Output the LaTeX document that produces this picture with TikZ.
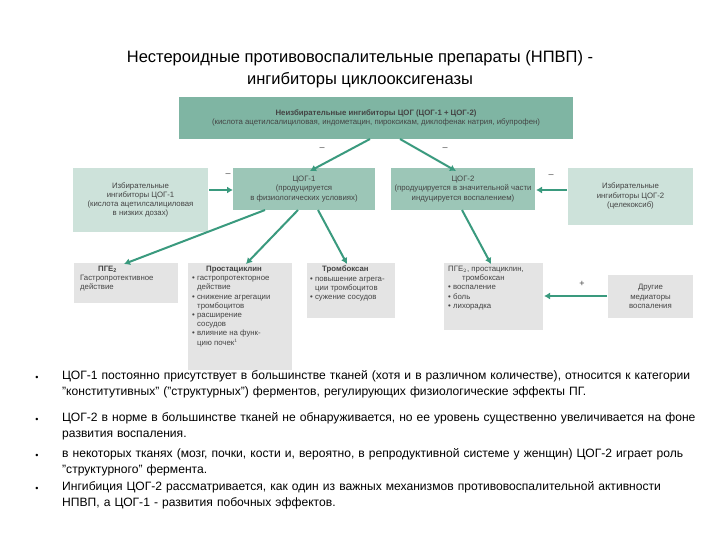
\documentclass[tikz,border=0pt]{standalone}
\usepackage{fontspec}
\setmainfont{Liberation Sans}
\usetikzlibrary{arrows.meta}
\definecolor{tealD}{HTML}{7FB5A3}
\definecolor{tealM}{HTML}{9CC6B7}
\definecolor{tealL}{HTML}{CDE2DA}
\definecolor{grayB}{HTML}{E4E4E4}
\definecolor{arr}{HTML}{3A9A7E}
\definecolor{txt}{HTML}{444444}
\tikzset{
 boxx/.style={inner sep=2pt,align=center,font=\fontsize{7.8}{9.2}\selectfont,text=txt},
 conn/.style={arr,line width=2pt,-{Latex[length=6pt,width=7pt]}},
 sign/.style={font=\fontsize{9}{10}\selectfont,text=txt},
 bul/.style={anchor=north west,text width=640pt,font=\fontsize{12.1}{16}\selectfont,align=left,inner sep=0pt}
}
\begin{document}
\begin{tikzpicture}[x=1pt,y=-1pt]
\useasboundingbox[fill=white] (0,0) rectangle (720,540);
\node[font=\fontsize{16.5}{22}\selectfont,align=center] (title) at (360,69) {Нестероидные противовоспалительные препараты (НПВП) -\\ингибиторы циклооксигеназы};
% boxes
\fill[tealD] (179,97) rectangle (573,139);
\node[boxx] (top) at (376,118) {\textbf{Неизбирательные ингибиторы ЦОГ (ЦОГ-1 + ЦОГ-2)}\\(кислота ацетилсалициловая, индометацин, пироксикам, диклофенак натрия, ибупрофен)};
\fill[tealL] (73,168) rectangle (208,232);
\node[boxx] (s1) at (140.5,200) {Избирательные\\ингибиторы ЦОГ-1\\(кислота ацетилсалициловая\\в низких дозах)};
\fill[tealM] (233,168) rectangle (375,210);
\node[boxx] (c1) at (304,189) {ЦОГ-1\\(продуцируется\\в физиологических условиях)};
\fill[tealM] (391,168) rectangle (535,210);
\node[boxx] (c2) at (463,189) {ЦОГ-2\\(продуцируется в значительной части\\индуцируется воспалением)};
\fill[tealL] (568,168) rectangle (693,225);
\node[boxx] (s2) at (630.5,196) {Избирательные\\ингибиторы ЦОГ-2\\(целекоксиб)};
\fill[grayB] (74,263) rectangle (178,303);
\node[boxx,align=left,anchor=north west] (p1) at (78,264) {\hspace*{18pt}\textbf{ПГЕ$_\mathbf{2}$}\\Гастропротективное\\действие};
\fill[grayB] (188,263) rectangle (292,370);
\node[boxx,align=left,anchor=north west] (p2) at (190,264) {\hspace*{14pt}\textbf{Простациклин}\\• гастропротекторное\\\hspace*{5pt}действие\\• снижение агрегации\\\hspace*{5pt}тромбоцитов\\• расширение\\\hspace*{5pt}сосудов\\• влияние на функ-\\\hspace*{5pt}цию почек$^1$};
\fill[grayB] (307,263) rectangle (395,318);
\node[boxx,align=left,anchor=north west] (p3) at (308,264) {\hspace*{12pt}\textbf{Тромбоксан}\\• повышение агрега-\\\hspace*{5pt}ции тромбоцитов\\• сужение сосудов};
\fill[grayB] (444,263) rectangle (543,330);
\node[boxx,align=left,anchor=north west] (p4) at (446,264) {ПГЕ$_2$, простациклин,\\\hspace*{14pt}тромбоксан\\• воспаление\\• боль\\• лихорадка};
\fill[grayB] (608,275) rectangle (693,318);
\node[boxx] (p5) at (650.5,296.5) {Другие\\медиаторы\\воспаления};
% arrows
\coordinate (tA) at (370,139); \coordinate (c1t) at (310,171);
\coordinate (tB) at (400,139); \coordinate (c2t) at (456,171);
\draw[conn] (tA) -- (c1t);
\draw[conn] (tB) -- (c2t);
\coordinate (s1e) at (209,190); \coordinate (s2w) at (567,190);
\draw[conn] (s1e) -- (233,190);
\draw[conn] (s2w) -- (536,190);
\coordinate (c1a) at (265,210); \coordinate (c1b) at (298,210); \coordinate (c1c) at (318,210);
\coordinate (c2a) at (462,210);
\draw[conn] (c1a) -- (124,264);
\draw[conn] (c1b) -- (246,264);
\draw[conn] (c1c) -- (347,264);
\draw[conn] (c2a) -- (491,264);
\coordinate (p5w) at (607,296);
\draw[conn] (p5w) -- (544,296);
\node[sign] at (322,149) {–};
\node[sign] at (445,149) {–};
\node[sign] at (228,175) {–};
\node[sign] at (551,176) {–};
\node[sign] at (582,284) {+};
% bullets
\foreach \y in {378,420,456,489} \node[font=\fontsize{9}{10}\selectfont] at (37,\y) {•};
\node[bul] (b1) at (62,370) {ЦОГ-1 постоянно присутствует в большинстве тканей (хотя и в различном количестве), относится к категории "конститутивных" ("структурных") ферментов, регулирующих физиологические эффекты ПГ.};
\node[bul] (b2) at (62,412) {ЦОГ-2 в норме в большинстве тканей не обнаруживается, но ее уровень существенно увеличивается на фоне развития воспаления.};
\node[bul] (b3) at (62,448) {в некоторых тканях (мозг, почки, кости и, вероятно, в репродуктивной системе у женщин) ЦОГ-2 играет роль "структурного" фермента.};
\node[bul] (b4) at (62,481) {Ингибиция ЦОГ-2 рассматривается, как один из важных механизмов противовоспалительной активности НПВП, а ЦОГ-1 - развития побочных эффектов.};
\end{tikzpicture}
\end{document}
